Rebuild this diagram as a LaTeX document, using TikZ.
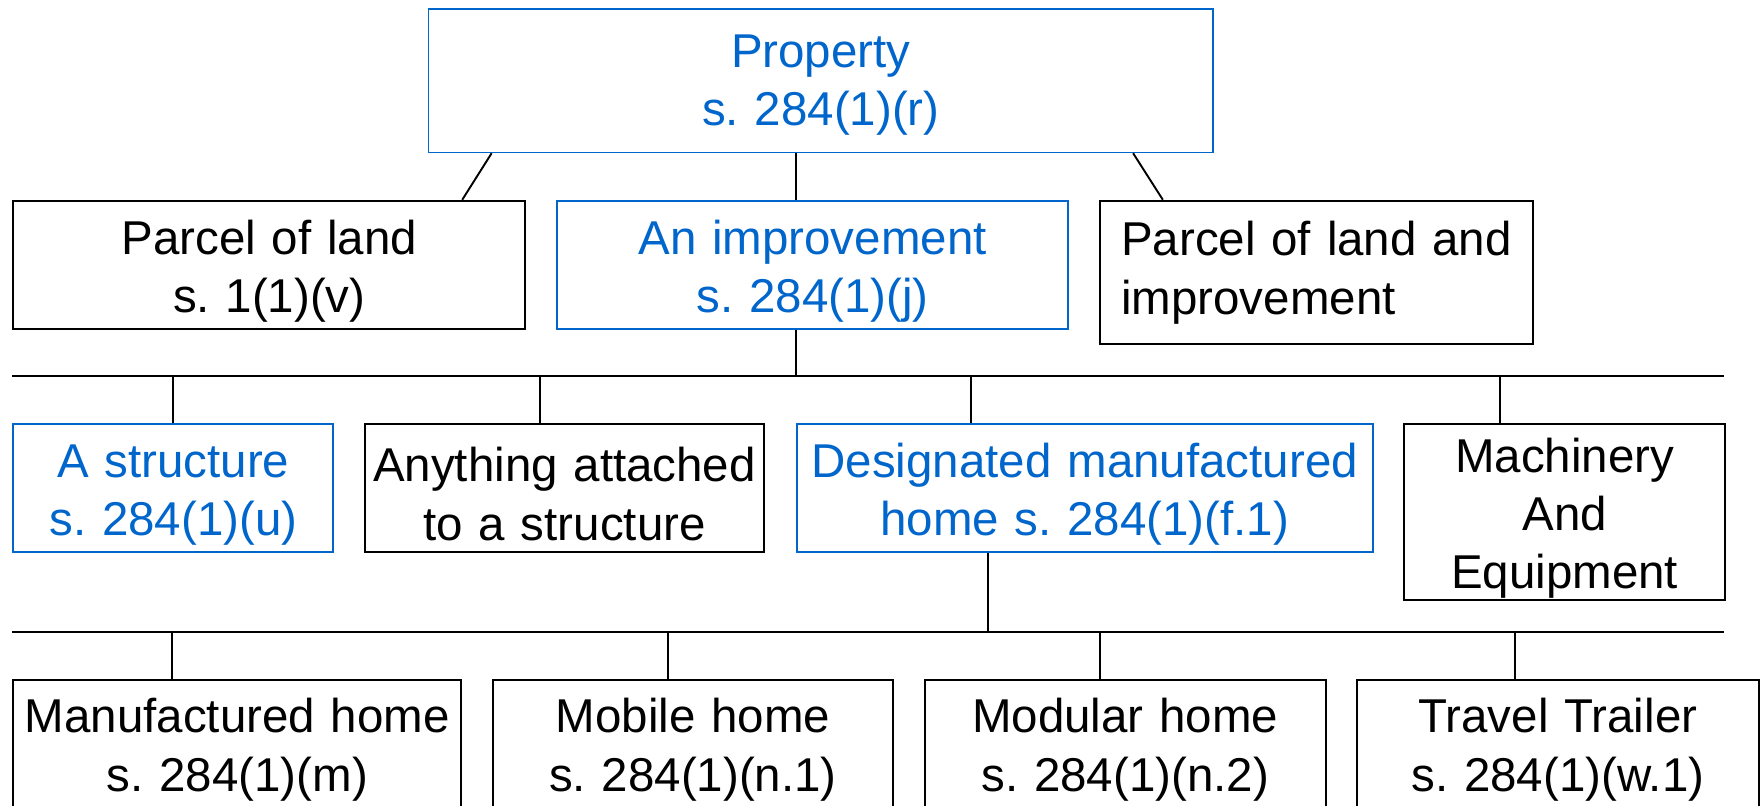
\documentclass[tikz,border=0pt]{standalone}
\usepackage{fontspec}
\setmainfont{Liberation Sans}
\usetikzlibrary{calc}
\definecolor{pblue}{HTML}{0066CC}
\frenchspacing
\begin{document}
\begin{tikzpicture}[x=1pt,y=-1pt,
  box/.style={draw=black, line width=1.8pt, inner sep=0pt, anchor=north west,
    align=center, text=black, font=\fontsize{42.3}{52}\selectfont},
  bbox/.style={box, draw=pblue, text=pblue},
  wh/.style 2 args={minimum width=#1, text width=#1, minimum height=#2},
  lift/.style={execute at begin node={\rule{0pt}{#1}}},
  conn/.style={draw=black, line width=1.7pt}]
\useasboundingbox (0,0) rectangle (1568,718);
\clip (0,0) rectangle (1568,718);
\fill[white] (0,0) rectangle (1568,718);

% top
\node[bbox, line width=1.5pt, wh={699pt}{128pt}, lift=37pt] (prop) at (381,7) {Property\\s. 284(1)(r)};

% row 2
\node[box, wh={456pt}{114pt}, lift=42pt] (parcel) at (11,178) {Parcel of land\\s. 1(1)(v)};
\node[bbox, wh={456pt}{114pt}, lift=42pt] (impr) at (495,178) {An improvement\\s. 284(1)(j)};
\node[box, align=left, inner xsep=19pt, text width=348pt, minimum height=128pt] (pli) at (979,178) {\mbox{Parcel of land and}\\\mbox{improvement}};

% row 3
\node[bbox, wh={285pt}{114pt}, lift=41pt] (struct) at (11,377) {A structure\\s. 284(1)(u)};
\node[box, wh={356pt}{114pt}, lift=41pt] (attach) at (324,377) {Anything attached\\to a structure};
\node[bbox, wh={513pt}{114pt}, lift=41pt] (dmh) at (709,377) {Designated manufactured\\home s. 284(1)(f.1)};
\node[box, wh={286pt}{157pt}, lift=41pt] (mach) at (1250,377) {Machinery\\And\\Equipment};

% row 4
\node[box, wh={399pt}{118pt}, lift=37pt] (manu) at (11,605) {Manufactured home\\s. 284(1)(m)};
\node[box, wh={357pt}{118pt}, lift=37pt] (mobile) at (438,605) {Mobile home\\s. 284(1)(n.1)};
\node[box, wh={357pt}{118pt}, lift=37pt] (modular) at (823,605) {Modular home\\s. 284(1)(n.2)};
\node[box, wh={358pt}{118pt}, lift=37pt] (travel) at (1208,605) {Travel Trailer\\s. 284(1)(w.1)};

% connectors from Property
\draw[conn] ([xshift=57pt]prop.south west) -- ([xshift=-57pt]parcel.north east);
\draw[conn] ([xshift=328pt]prop.south west) -- ([xshift=214pt]impr.north west);
\draw[conn] ([xshift=-72pt]prop.south east) -- ([xshift=57pt]pli.north west);

% bus 1
\coordinate (b1L) at (11,335);
\coordinate (b1R) at (1536,335);
\draw[conn] ([xshift=214pt]impr.south west) -- ([xshift=214pt]impr.south west |- b1L);
\draw[conn] (b1L) -- (b1R);
\draw[conn] (struct.north) -- (struct.north |- b1L);
\draw[conn] ([xshift=157pt]attach.north west) -- ([xshift=157pt]attach.north west |- b1L);
\draw[conn] ([xshift=156pt]dmh.north west) -- ([xshift=156pt]dmh.north west |- b1L);
\draw[conn] ([xshift=86pt]mach.north west) -- ([xshift=86pt]mach.north west |- b1L);

% bus 2
\coordinate (b2L) at (11,563);
\coordinate (b2R) at (1536,563);
\draw[conn] ([xshift=171pt]dmh.south west) -- ([xshift=171pt]dmh.south west |- b2L);
\draw[conn] (b2L) -- (b2R);
\draw[conn] ([xshift=142pt]manu.north west) -- ([xshift=142pt]manu.north west |- b2L);
\draw[conn] ([xshift=157pt]mobile.north west) -- ([xshift=157pt]mobile.north west |- b2L);
\draw[conn] ([xshift=157pt]modular.north west) -- ([xshift=157pt]modular.north west |- b2L);
\draw[conn] ([xshift=142pt]travel.north west) -- ([xshift=142pt]travel.north west |- b2L);
\end{tikzpicture}
\end{document}
